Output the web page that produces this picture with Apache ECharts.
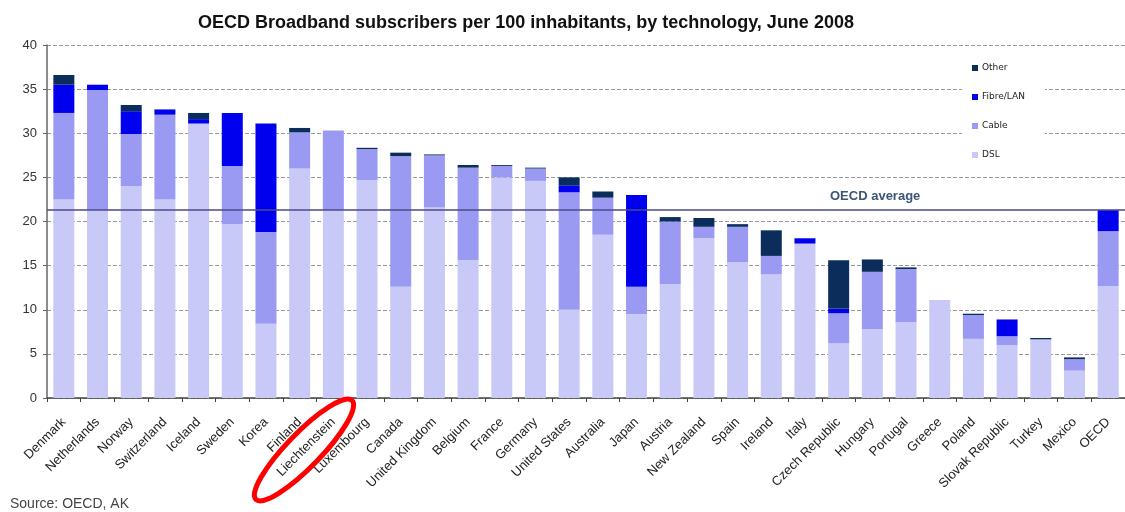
<!DOCTYPE html>
<html>
<head>
<meta charset="utf-8">
<script src="https://cdn.jsdelivr.net/npm/echarts@6/dist/echarts.min.js"></script>
<style>
html,body{margin:0;padding:0;background:#fff;}
#chart{width:1125px;height:512px;}
</style>
</head>
<body>
<div id="chart"></div>
<script>
const countries = ["Denmark","Netherlands","Norway","Switzerland","Iceland","Sweden","Korea","Finland","Liechtenstein","Luxembourg","Canada","United Kingdom","Belgium","France","Germany","United States","Australia","Japan","Austria","New Zealand","Spain","Ireland","Italy","Czech Republic","Hungary","Portugal","Greece","Poland","Slovak Republic","Turkey","Mexico","OECD"];
const dsl   = [22.5,21.3,24.0,22.5,31.1,19.7,8.4,26.0,21.3,24.7,12.6,21.6,15.6,25.0,24.6,10.0,18.5,9.5,12.9,18.1,15.4,14.0,17.5,6.2,7.8,8.6,11.1,6.7,6.0,6.65,3.1,12.7];
const cable = [9.8,13.6,5.9,9.6,0,6.6,10.4,4.1,9.0,3.5,14.8,5.9,10.5,1.3,1.4,13.3,4.2,3.1,7.1,1.3,4.0,2.1,0,3.4,6.5,6.0,0,2.7,1.0,0,1.3,6.2];
const fibre = [3.2,0.6,2.6,0.6,0.5,6.0,12.3,0,0,0,0,0,0,0,0,0.8,0,10.4,0,0,0,0,0.6,0.5,0,0,0,0,1.9,0,0,2.4];
const other = [1.1,0,0.7,0,0.7,0,0,0.5,0,0.15,0.4,0.1,0.3,0.1,0.1,0.9,0.7,0,0.5,1.0,0.3,2.9,0,5.5,1.4,0.2,0,0.15,0,0.15,0.2,0];
const oecdAverage = 21.3;
const yTicks = {min:0, max:40, interval:5};

const chart = echarts.init(document.getElementById('chart'));
const FONT = 'Liberation Sans, Arial, sans-serif';
function bar(name, data, color, extra){
  return Object.assign({
    name: name, type: 'bar', stack: 'total', data: data, barWidth: 21,
    itemStyle: {color: color}, emphasis: {disabled: true}
  }, extra || {});
}
chart.setOption({
  animation: false,
  backgroundColor: '#fff',
  title: {
    text: 'OECD Broadband subscribers per 100 inhabitants, by technology, June 2008',
    left: 521, top: 9, textAlign: 'center',
    textStyle: {fontFamily: FONT, fontSize: 18, fontWeight: 'bold', color: '#111'}
  },
  legend: {
    orient: 'vertical', left: 962, top: 55,
    padding: [7, 20, 7, 10],
    backgroundColor: '#fff',
    itemWidth: 6, itemHeight: 6, itemGap: 17,
    icon: 'rect',
    data: ['Other','Fibre/LAN','Cable','DSL'],
    textStyle: {fontFamily: 'DejaVu Sans, sans-serif', fontSize: 9, color: '#222', lineHeight: 12, padding: [0,0,0,-1]}
  },
  grid: {left: 47, top: 45, width: 1083, bottom: 114, containLabel: false},
  xAxis: {
    type: 'category', data: countries,
    axisLine: {lineStyle: {color: '#444', width: 1.5}},
    axisTick: {show: true, length: 4, lineStyle: {color: '#444'}},
    axisLabel: {rotate: 45, interval: 0, margin: 22, fontFamily: FONT, fontSize: 13, color: '#222'}
  },
  yAxis: {
    type: 'value', min: yTicks.min, max: yTicks.max, interval: yTicks.interval,
    axisLine: {show: true, lineStyle: {color: '#666', width: 1.5}},
    axisTick: {show: true, length: 4, lineStyle: {color: '#666'}},
    axisLabel: {margin: 10, fontFamily: FONT, fontSize: 13, color: '#333'},
    splitLine: {lineStyle: {color: '#999', type: [4, 2], width: 1}}
  },
  series: [
    bar('DSL', dsl, '#C9C9F8'),
    bar('Cable', cable, '#9A9AF2'),
    bar('Fibre/LAN', fibre, '#0000EE'),
    bar('Other', other, '#0B2D5C', {
      markLine: {
        silent: true, symbol: 'none',
        lineStyle: {color: '#4A4A88', type: 'solid', width: 1.5},
        label: {show: false},
        data: [{yAxis: oecdAverage}]
      }
    })
  ],
  graphic: [
    {type: 'text', left: 830, top: 190, z: 10,
     style: {text: 'OECD average', fontFamily: FONT, fontSize: 13, fontWeight: 'bold', fill: '#3B5575'}},
    {type: 'text', left: 10, top: 497,
     style: {text: 'Source: OECD, AK', fontFamily: FONT, fontSize: 14, fill: '#444'}},
    {type: 'ellipse', x: 304, y: 450, rotation: 0.8, z: 20,
     shape: {cx: 0, cy: 0, rx: 69, ry: 17},
     style: {fill: 'none', stroke: '#FF0000', lineWidth: 5}}
  ]
});
</script>
</body>
</html>
